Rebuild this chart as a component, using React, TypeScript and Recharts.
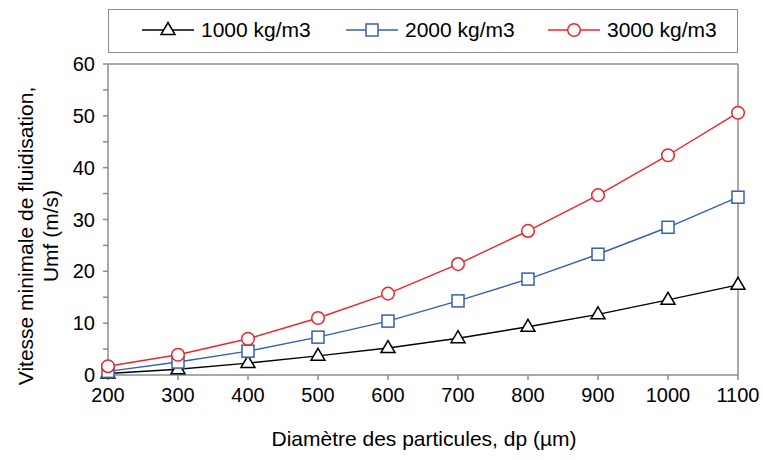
import { LineChart, Line, XAxis, YAxis } from "recharts";

// particle diameter (µm) and Umf (m/s) for three particle densities
const DIAMETERS = [200, 300, 400, 500, 600, 700, 800, 900, 1000, 1100];
const RHO_1000 = [0.3, 1.1, 2.3, 3.7, 5.2, 7.1, 9.3, 11.7, 14.5, 17.4];
const RHO_2000 = [0.7, 2.5, 4.6, 7.3, 10.4, 14.3, 18.5, 23.3, 28.5, 34.3];
const RHO_3000 = [1.7, 3.9, 7.0, 11.0, 15.7, 21.4, 27.8, 34.7, 42.4, 50.6];

const X_TICKS = [200, 300, 400, 500, 600, 700, 800, 900, 1000, 1100];
const Y_TICKS = [0, 5, 10, 15, 20, 25, 30, 35, 40, 45, 50, 55, 60];

const SERIES = [
  { key: "r1000", name: "1000 kg/m3", color: "#000000", marker: "triangle" },
  { key: "r2000", name: "2000 kg/m3", color: "#3560ad", marker: "square" },
  { key: "r3000", name: "3000 kg/m3", color: "#f0232b", marker: "circle" },
];

const data = DIAMETERS.map((d, i) => ({
  dp: d, r1000: RHO_1000[i], r2000: RHO_2000[i], r3000: RHO_3000[i],
}));

const FONT = "'Liberation Sans', Arial, sans-serif";
const AXIS = "#8c8c8c";

function Marker({ kind, cx, cy, color }: { kind: string; cx: number; cy: number; color: string }) {
  if (kind === "triangle")
    return <path d={`M${cx},${cy - 7.5} L${cx + 7},${cy + 4.5} L${cx - 7},${cy + 4.5} Z`}
      fill="#fff" stroke={color} strokeWidth={1.5} />;
  if (kind === "square")
    return <rect x={cx - 6} y={cy - 6} width={12} height={12} fill="#fff" stroke={color} strokeWidth={1.5} />;
  return <circle cx={cx} cy={cy} r={6.3} fill="#fff" stroke={color} strokeWidth={1.5} />;
}

const dotFor = (kind: string, color: string) => (p: any) => {
  if (p.cx == null || p.cy == null) return <g key={p.index} />;
  return <g key={p.index}><Marker kind={kind} cx={p.cx} cy={p.cy} color={color} /></g>;
};

function LegendBox() {
  const pos = [33, 237, 439];
  return (
    <div style={{
      position: "absolute", left: 108, top: 9, width: 630, height: 44,
      border: `1.5px solid ${AXIS}`, boxSizing: "border-box", fontFamily: FONT, fontSize: 21,
    }}>
      {SERIES.map((s, i) => (
        <div key={s.key} style={{ position: "absolute", left: pos[i], top: 8, display: "flex", alignItems: "center" }}>
          <svg width={53} height={24}>
            <line x1={0} y1={12} x2={52} y2={12} stroke={s.color} strokeWidth={1.4} />
            <Marker kind={s.marker} cx={26} cy={12} color={s.color} />
          </svg>
          <span style={{ marginLeft: 6, color: "#000", lineHeight: "24px" }}>{s.name}</span>
        </div>
      ))}
    </div>
  );
}

export default function App() {
  return (
    <div style={{ position: "absolute", left: 0, top: 0, width: 763, height: 460, background: "#fff" }}>
      <LineChart width={763} height={460} data={data}
        margin={{ top: 63, right: 24, bottom: 0, left: 0 }}>
        <XAxis dataKey="dp" type="number" domain={[200, 1100]} ticks={X_TICKS} interval={0}
          stroke={AXIS} strokeWidth={1.5} tickSize={5} tickMargin={8} height={85}
          tick={{ fill: "#000", fontSize: 20, fontFamily: FONT }} />
        <XAxis xAxisId="top" orientation="top" dataKey="dp" type="number" domain={[200, 1100]}
          stroke={AXIS} strokeWidth={1.5} tick={false} tickLine={false} height={1} />
        <YAxis type="number" domain={[0, 60]} ticks={Y_TICKS} interval={0}
          stroke={AXIS} strokeWidth={1.5} tickSize={5} tickMargin={8} width={108}
          tickFormatter={(v: number) => (v % 10 === 0 ? String(v) : "")}
          tick={{ fill: "#000", fontSize: 20, fontFamily: FONT }} />
        <YAxis yAxisId="right" orientation="right" type="number" domain={[0, 60]}
          stroke={AXIS} strokeWidth={1.5} tick={false} tickLine={false} width={1} />
        {SERIES.map(s => (
          <Line key={s.key} dataKey={s.key} name={s.name} stroke={s.color} strokeWidth={1.4}
            dot={dotFor(s.marker, s.color)} activeDot={false} isAnimationActive={false} />
        ))}
      </LineChart>
      <LegendBox />
      <div style={{
        position: "absolute", left: 0, top: 427, width: 848, textAlign: "center",
        fontFamily: FONT, fontSize: 21, color: "#000",
      }}>Diamètre des particules, dp (µm)</div>
      <svg style={{ position: "absolute", left: 0, top: 0 }} width={70} height={460}>
        <text transform="translate(0,236) rotate(-90)" textAnchor="middle" fontFamily={FONT} fontSize={21} fill="#000">
          <tspan x={0} y={33}>Vitesse minimale de fluidisation,</tspan>
          <tspan x={0} y={58}>Umf (m/s)</tspan>
        </text>
      </svg>
    </div>
  );
}
